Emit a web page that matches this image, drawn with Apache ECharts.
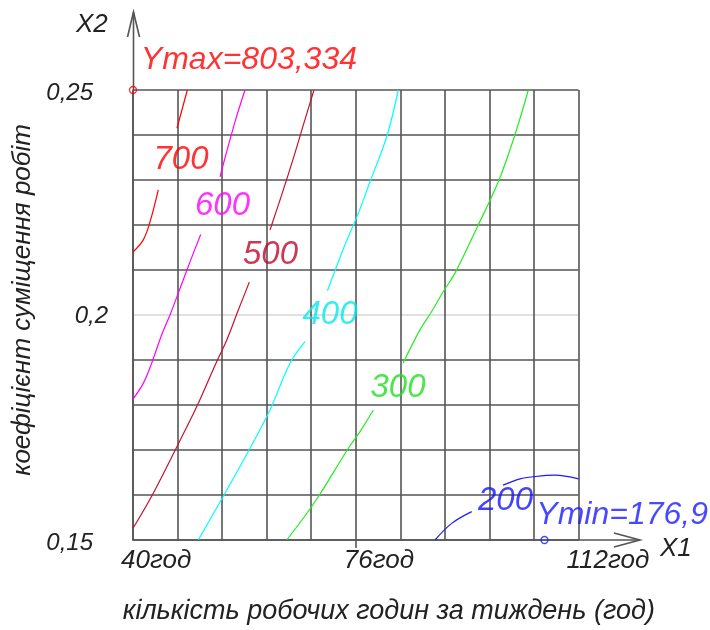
<!DOCTYPE html>
<html><head><meta charset="utf-8">
<script src="https://cdn.jsdelivr.net/npm/echarts@6/dist/echarts.min.js"></script>
<style>html,body{margin:0;padding:0;background:#fff}#c{width:710px;height:630px}</style>
</head><body><div id="c"></div>
<script>
// Tick labels
const xTickValues = [40, 76, 112];
const xTickLabels = ['40год', '76год', '112год'];
const yTickValues = [0.15, 0.2, 0.25];
const yTickLabels = ['0,15', '0,2', '0,25'];

// Contour lines (X1 hours, X2 coefficient); each level drawn in pieces, gaps at labels
const c700Upper = [[48.78,0.25],[47.11,0.2415]];
const c700Lower = [[44.09,0.2278],[42.75,0.2207],[41.66,0.2167],[40.0,0.2140]];
const c600Upper = [[58.10,0.25],[56.65,0.2437],[55.14,0.2363],[54.06,0.2307]];
const c600Lower = [[50.94,0.2179],[49.21,0.2118],[47.60,0.2059],[46.09,0.2004],[44.64,0.1956],[43.02,0.1893],[41.66,0.1848],[40.0,0.1813]];
const c500Upper = [[69.25,0.25],[67.52,0.2422],[65.91,0.2348],[64.03,0.2267],[62.14,0.2189]];
const c500Lower = [[58.80,0.2073],[57.02,0.2011],[55.14,0.1944],[53.41,0.1893],[50.29,0.1796],[47.48,0.1718],[43.28,0.1604],[40.0,0.1526]];
const c400Upper = [[82.88,0.25],[81.00,0.2396],[78.30,0.2296],[76.44,0.2227],[74.26,0.2156],[71.43,0.2054]];
const c400Lower = [[67.80,0.1941],[65.37,0.1893],[62.14,0.1789],[58.91,0.1704],[54.87,0.1604],[50.55,0.15]];
const c300Upper = [[103.89,0.25],[101.63,0.2396],[99.04,0.2296],[95.55,0.2193],[92.04,0.2093],[90.10,0.2051],[88.32,0.2009],[86.38,0.1967],[83.64,0.1893]];
const c300Lower = [[78.84,0.1789],[76.69,0.1741],[74.80,0.1704],[69.41,0.1585],[64.84,0.15]];
const c200Left = [[88.81,0.15],[91.51,0.1537],[94.74,0.1563]];
const c200Right = [[99.80,0.1622],[102.55,0.1636],[104.97,0.1641],[108.20,0.1644],[112.0,0.1636]];

// Contour level labels: [x1, x2, text]
const contourLabels = [[47.76,0.2344,'700'],[54.46,0.2242,'600'],[62.22,0.2133,'500'],[71.84,0.2000,'400'],[82.83,0.1839,'300'],[100.20,0.1587,'200']];

// Extremes
const yMaxPoint = [40, 0.25];
const yMaxText = 'Ymax=803,334';
const yMinPoint = [106.5, 0.15];
const yMinText = 'Ymin=176,9';

const FONT = 'Liberation Sans';
const col = {700:'#ff0000',600:'#ff00ff',500:'#c8102e',400:'#00ffff',300:'#22ee22',200:'#1a1aff'};
const textCol = {700:'#ff0000',600:'#ff00ff',500:'#c00828',400:'#00eaea',300:'#1ee01e',200:'#1414ff'};

function lineSeries(data, c) {
  return {type:'line', data:data, smooth:0.35, showSymbol:false, symbol:'none', silent:true,
    lineStyle:{color:c, width:1.2}, z:3, xAxisIndex:0, yAxisIndex:0};
}

const gridGray = '#555';
const yLineColors = [];
for (let i = 0; i <= 10; i++) yLineColors.push(i === 5 ? '#d6d6d6' : gridGray);

const chart = echarts.init(document.getElementById('c'), null, {renderer:'canvas'});
const option = {
  animation:false,
  backgroundColor:'#fff',
  grid:{left:133, top:90, width:445.5, height:450, containLabel:false, outerBoundsMode:'none'},
  xAxis:[
    {type:'value', min:40, max:112, position:'bottom',
     name:'кількість робочих годин за тиждень (год)', nameLocation:'middle', nameGap:58,
     nameTextStyle:{fontFamily:FONT, fontStyle:'italic', fontSize:27, color:'#222', padding:[0,0,0,66]},
     axisLine:{show:true, lineStyle:{color:gridGray, width:1.6}},
     axisTick:{show:true, customValues:[76], length:8, lineStyle:{color:gridGray, width:1.6}},
     axisLabel:{show:true, customValues:xTickValues, align:'left', margin:8,
       formatter:function(v){const i = xTickValues.indexOf(v); return i>=0 ? '{t|'+xTickLabels[i]+'}' : '';},
       rich:{t:{fontFamily:FONT, fontStyle:'italic', fontSize:26, color:'#222', padding:[0,0,0,-12]}}},
     splitLine:{show:false}},
    {type:'value', min:0, max:10, interval:1, position:'top', show:true,
     axisLine:{show:false}, axisTick:{show:false}, axisLabel:{show:false},
     splitLine:{show:true, lineStyle:{color:gridGray, width:1.6}}}
  ],
  yAxis:[
    {type:'value', min:0.15, max:0.25, interval:0.01,
     name:'коефіцієнт суміщення робіт', nameLocation:'middle', nameGap:84, nameRotate:90,
     nameTextStyle:{fontFamily:FONT, fontStyle:'italic', fontSize:26, color:'#222', padding:[0,0,0,30]},
     axisLine:{show:true, lineStyle:{color:gridGray, width:1.6}},
     axisTick:{show:false},
     axisLabel:{show:true, margin:25,
       formatter:function(v){
         for (let i=0;i<yTickValues.length;i++){
           if (Math.abs(v-yTickValues[i])<1e-9) return (i===1?'{b|':'{a|')+yTickLabels[i]+'}';
         }
         return '';
       },
       rich:{a:{fontFamily:FONT, fontStyle:'italic', fontSize:24, color:'#222', padding:[6,15,0,0]},
             b:{fontFamily:FONT, fontStyle:'italic', fontSize:24, color:'#222', padding:[2,0,0,0]}}},
     splitLine:{show:true, lineStyle:{color:yLineColors, width:1.6}}}
  ],
  series:[
    lineSeries(c700Upper,col[700]), lineSeries(c700Lower,col[700]),
    lineSeries(c600Upper,col[600]), lineSeries(c600Lower,col[600]),
    lineSeries(c500Upper,col[500]), lineSeries(c500Lower,col[500]),
    lineSeries(c400Upper,col[400]), lineSeries(c400Lower,col[400]),
    lineSeries(c300Upper,col[300]), lineSeries(c300Lower,col[300]),
    lineSeries(c200Left,col[200]), lineSeries(c200Right,col[200]),
    {type:'scatter', symbol:'circle', symbolSize:4, silent:true, z:6,
     itemStyle:{color:'rgba(255,255,255,0)'},
     label:{show:true, position:'inside', formatter:'{b}', align:'center', verticalAlign:'middle',
       fontFamily:FONT, fontStyle:'italic', fontSize:33, color:'#000'},
     data:contourLabels.map(function(d){return {value:[d[0],d[1]], name:d[2],
       label:{color:textCol[d[2]]}};})},
    {type:'scatter', symbol:'circle', symbolSize:7, silent:true, z:5,
     itemStyle:{color:'rgba(255,255,255,0)', borderColor:'#ff0000', borderWidth:1.3},
     data:[yMaxPoint],
     label:{show:true, formatter:yMaxText, position:[12,-26], align:'left', verticalAlign:'middle',
       fontFamily:FONT, fontStyle:'italic', fontSize:32, color:'#ff0000'}},
    {type:'scatter', symbol:'circle', symbolSize:7, silent:true, z:5,
     itemStyle:{color:'rgba(255,255,255,0)', borderColor:'#1a1aff', borderWidth:1.3},
     data:[yMinPoint],
     label:{show:true, formatter:yMinText, position:[-4,-21], align:'left', verticalAlign:'middle',
       fontFamily:FONT, fontStyle:'italic', fontSize:32, color:'#1a1aff'}}
  ],
  graphic:[
    {type:'line', shape:{x1:133.5, y1:90, x2:133.5, y2:12}, style:{stroke:gridGray, lineWidth:1.6}},
    {type:'polyline', shape:{points:[[127.5,37],[133.5,12],[139.5,37]]}, style:{stroke:gridGray, lineWidth:1.6, fill:null}},
    {type:'line', shape:{x1:578, y1:540, x2:640, y2:540}, style:{stroke:gridGray, lineWidth:1.6}},
    {type:'polyline', shape:{points:[[614,533],[640,540],[614,547]]}, style:{stroke:gridGray, lineWidth:1.6, fill:null}},
    {type:'text', left:76, top:12, style:{text:'X2', fontFamily:FONT, fontStyle:'italic', fontSize:26, fill:'#222'}},
    {type:'text', left:660, top:536, style:{text:'X1', fontFamily:FONT, fontStyle:'italic', fontSize:26, fill:'#222'}}
  ]
};
chart.setOption(option);
</script>
</body></html>
